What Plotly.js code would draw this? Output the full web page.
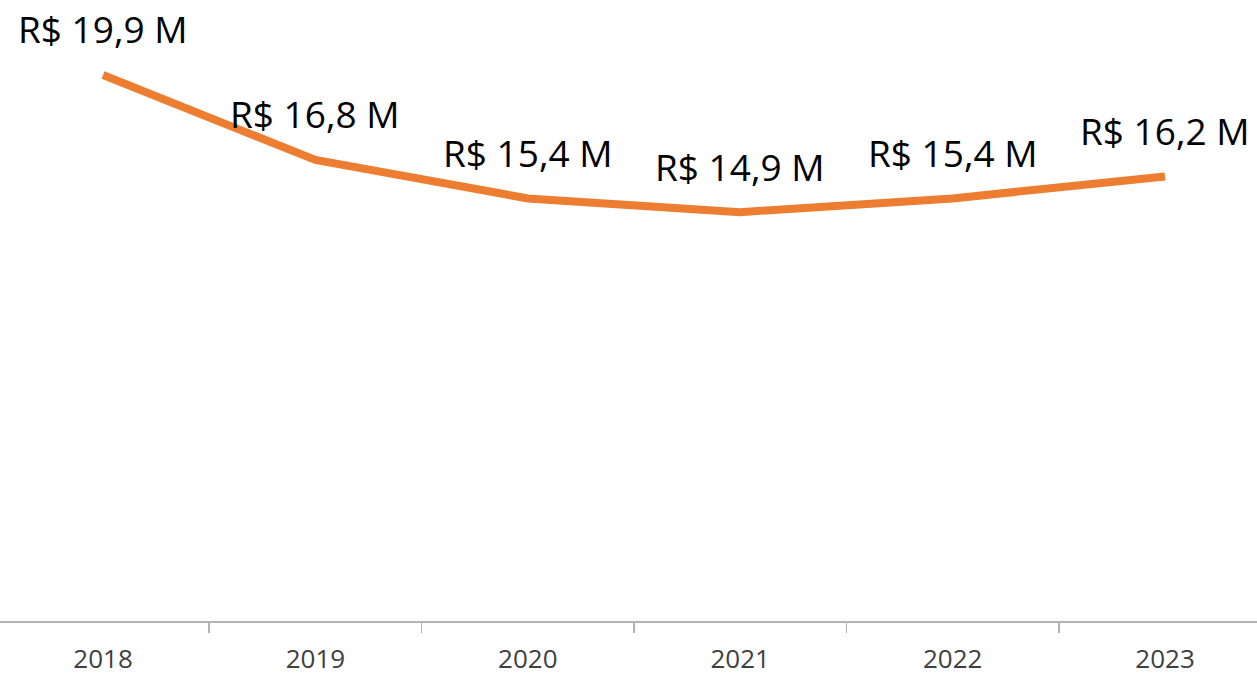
<!DOCTYPE html>
<html>
<head>
<meta charset="utf-8">
<script src="https://cdn.plot.ly/plotly-3.0.1.min.js"></script>
<style>html,body{margin:0;padding:0;background:#fff;}#chart{width:1257px;height:674px;}</style>
</head>
<body>
<div id="chart"></div>
<script>
const years = ['2018', '2019', '2020', '2021', '2022', '2023'];
const values = [19.9, 16.8, 15.4, 14.9, 15.4, 16.2];
const valueLabels = ['R$ 19,9 M', 'R$ 16,8 M', 'R$ 15,4 M', 'R$ 14,9 M', 'R$ 15,4 M', 'R$ 16,2 M'];

const trace = {
  x: years,
  y: values,
  type: 'scatter',
  mode: 'lines',
  line: {color: '#ED7D31', width: 8},
  hoverinfo: 'skip',
  cliponaxis: false
};

const annotations = years.map((yr, i) => ({
  x: i, y: values[i], xref: 'x', yref: 'y',
  text: valueLabels[i].replace('$', '&#36;'),
  showarrow: false, yshift: 46, xanchor: 'center', yanchor: 'middle',
  font: {family: 'Open Sans, sans-serif', size: 37, color: '#000000'}
}));

const layout = {
  width: 1257, height: 674,
  margin: {l: 0, r: 0, t: 0, b: 53, pad: 0},
  paper_bgcolor: '#ffffff', plot_bgcolor: '#ffffff',
  showlegend: false,
  xaxis: {
    type: 'category',
    range: [-0.485, 5.433],
    showgrid: false, zeroline: false,
    showline: true, linecolor: '#b3b3b3', linewidth: 2,
    ticks: 'outside', tickson: 'boundaries', ticklen: 10, tickwidth: 1.5, tickcolor: '#b3b3b3',
    tickfont: {family: 'Open Sans, sans-serif', size: 26, color: '#404040'},
    ticklabelstandoff: 14,
    fixedrange: true
  },
  yaxis: {
    range: [0, 22.63],
    visible: false, showgrid: false, zeroline: false, fixedrange: true
  },
  annotations: annotations
};

Plotly.newPlot('chart', [trace], layout, {displayModeBar: false, staticPlot: true});
</script>
</body>
</html>
